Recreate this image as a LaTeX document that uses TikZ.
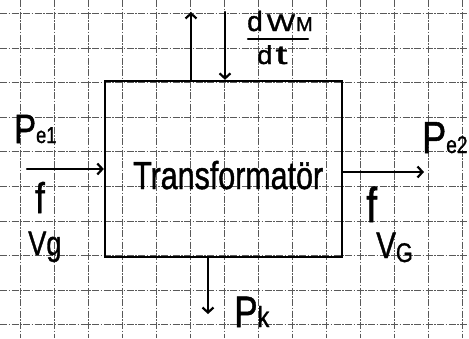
\documentclass[tikz,border=0pt]{standalone}
\usepackage{fontspec}
\setmainfont{Liberation Sans}
\newfontfamily\hwfont{Liberation Sans}[FakeBold=1.2]
\usepackage{graphicx}
\usetikzlibrary{arrows.meta}
\newcommand{\hws}[3]{{\hwfont\fontsize{#2}{#2}\selectfont\scalebox{#1}[1]{#3}}}
\newcommand{\hwtext}[2]{\hws{0.8}{#1}{#2}}
\begin{document}
\begin{tikzpicture}[x=1pt,y=-1pt,
  gridline/.style={black!65, line width=0.8pt, dash pattern=on 7pt off 1.5pt on 1.5pt off 1.5pt},
  ink/.style={line width=2.4pt, line cap=round},
  flow/.style={ink, -{Straight Barb[length=5pt,width=11pt,line width=2.2pt]}},
  lbl/.style={inner sep=0pt, anchor=base west}]
\useasboundingbox[fill=white] (0,0) rectangle (469,338);
% grid paper
\foreach \i in {0,...,13} \draw[gridline] (20.7+34*\i,0) -- (20.7+34*\i,338);
\foreach \j in {0,...,9} \draw[gridline] (0,13.3+34.6*\j) -- (469,13.3+34.6*\j);
% transformer box
\node[draw, line width=2.4pt, minimum width=237pt, minimum height=176pt, inner sep=0pt] (box) at (223.5,169) {};
\node[lbl] (name) at (133,189) {\hws{0.78}{39}{Transformatör}};
% connectors
\coordinate (upend) at (191,12);
\draw[flow] (upend |- box.north) -- (upend);
\coordinate (downstart) at (225,12);
\draw[flow] (downstart) -- (downstart |- box.north);
\coordinate (inL) at (27,169);
\draw[flow] (inL) -- (inL -| box.west);
\coordinate (outR) at (424,172);
\draw[flow] (outR -| box.east) -- (outR);
\coordinate (lossend) at (208,314);
\draw[flow] (lossend |- box.south) -- (lossend);
% fraction dW_M/dt
\node[lbl] (num) at (247,31) {\hws{1}{28}{d}\hspace{4pt}\hws{1.25}{24}{W}\hspace{1pt}\hws{1}{20}{M}};
\coordinate (barL) at (248,39);
\coordinate (barR) at (308,39);
\draw[ink] (barL) -- (barR);
\node[lbl] (den) at (257,64) {\hws{1.05}{26}{d}\hspace{3pt}\hws{1.6}{27}{t}};
% left labels
\node[lbl] (pe1) at (14,143) {\hwtext{41}{P}\hwtext{23}{e1}};
\node[lbl] (fl) at (35,213) {\hwtext{43}{f}};
\node[lbl] (vg) at (28,255) {\hwtext{34}{Vg}};
% right labels
\node[lbl] (pe2) at (422,153) {\hwtext{45}{P}\hwtext{24}{e2}};
\node[lbl] (fr) at (366,222) {\hwtext{49}{f}};
\node[lbl] (vG) at (376,258) {\hwtext{37}{V}\raisebox{-4pt}{\hwtext{27}{G}}};
% bottom label
\node[lbl] (pk) at (234,327) {\hwtext{44}{P}\hwtext{29}{k}};
\end{tikzpicture}
\end{document}
